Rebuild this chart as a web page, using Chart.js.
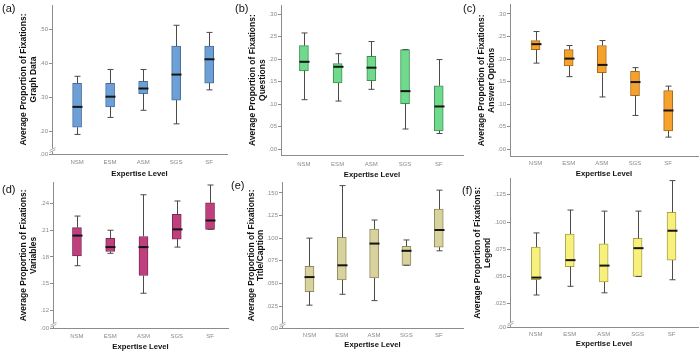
<!DOCTYPE html>
<html>
<head>
<meta charset="utf-8">
<script src="https://cdn.jsdelivr.net/npm/chart.js@4/dist/chart.umd.min.js"></script>
<style>
  html, body { margin: 0; padding: 0; background: #fff; }
  #fig { position: relative; width: 700px; height: 357px; overflow: hidden; }
  .panel { position: absolute; width: 234px; height: 180px; }
  .tag { position: absolute; font: 11px Arial, "Liberation Sans", sans-serif; color: #111; line-height: 12px; }
</style>
</head>
<body>
<div id="fig"></div>
<script>
// Data: each box is [min, q1, median, q3, max]
const groups = ["NSM", "ESM", "ASM", "SGS", "SF"];

const graphData = [
    [0.190, 0.211, 0.271, 0.340, 0.361],
    [0.240, 0.271, 0.301, 0.340, 0.381],
    [0.261, 0.310, 0.325, 0.346, 0.381],
    [0.221, 0.291, 0.366, 0.450, 0.511],
    [0.321, 0.341, 0.411, 0.450, 0.490],
];
const questions = [
    [0.110, 0.174, 0.194, 0.230, 0.258],
    [0.107, 0.147, 0.183, 0.190, 0.212],
    [0.133, 0.152, 0.181, 0.206, 0.239],
    [0.045, 0.101, 0.129, 0.221, 0.221],
    [0.035, 0.041, 0.095, 0.141, 0.199],
];
const answerOptions = [
    [0.191, 0.221, 0.233, 0.241, 0.261],
    [0.161, 0.185, 0.201, 0.221, 0.230],
    [0.116, 0.170, 0.187, 0.230, 0.241],
    [0.075, 0.119, 0.149, 0.173, 0.181],
    [0.027, 0.041, 0.086, 0.130, 0.140],
];
const variables = [
    [0.170, 0.181, 0.204, 0.213, 0.226],
    [0.184, 0.186, 0.191, 0.201, 0.210],
    [0.139, 0.159, 0.191, 0.203, 0.250],
    [0.191, 0.200, 0.211, 0.228, 0.243],
    [0.211, 0.211, 0.221, 0.241, 0.261],
];
const titleCaption = [
    [0.026, 0.041, 0.057, 0.069, 0.100],
    [0.038, 0.054, 0.070, 0.101, 0.158],
    [0.031, 0.056, 0.094, 0.110, 0.120],
    [0.070, 0.070, 0.086, 0.091, 0.098],
    [0.086, 0.090, 0.109, 0.132, 0.153],
];
const legendData = [
    [0.033, 0.047, 0.049, 0.077, 0.090],
    [0.041, 0.059, 0.065, 0.089, 0.111],
    [0.035, 0.045, 0.060, 0.080, 0.110],
    [0.050, 0.050, 0.076, 0.085, 0.110],
    [0.047, 0.065, 0.092, 0.109, 0.138],
];

// tick labels
const ticksTop = [0.00, 0.05, 0.10, 0.15, 0.20, 0.25, 0.30];
const ticksGraph = [0.20, 0.30, 0.40, 0.50];
const ticksVars = [0.12, 0.15, 0.18, 0.21, 0.24];
const ticksTitle = [0.025, 0.050, 0.075, 0.100, 0.125, 0.150];
const ticksLegend = [0.025, 0.050, 0.075, 0.100, 0.125];

Chart.defaults.font.family = 'Arial, "Liberation Sans", sans-serif';

// Whiskers, medians and the axis break
const boxExtras = {
    id: "boxExtras",
    afterDatasetsDraw(chart, args, opts) {
        const { ctx } = chart;
        const x = chart.scales.x;
        const y = chart.scales.y;
        ctx.save();
        opts.boxes.forEach((b, i) => {
            const cx = Math.round(x.getPixelForValue(i)) + 0.5;
            const pMin = y.getPixelForValue(b[0]);
            const pQ1 = y.getPixelForValue(b[1]);
            const pMed = y.getPixelForValue(b[2]);
            const pQ3 = y.getPixelForValue(b[3]);
            const pMax = y.getPixelForValue(b[4]);
            ctx.strokeStyle = "#4a4a4a";
            ctx.lineWidth = 1;
            ctx.beginPath();
            ctx.moveTo(cx, pQ3); ctx.lineTo(cx, pMax);
            ctx.moveTo(cx, pQ1); ctx.lineTo(cx, pMin);
            ctx.moveTo(cx - 3, pMax); ctx.lineTo(cx + 3, pMax);
            ctx.moveTo(cx - 3, pMin); ctx.lineTo(cx + 3, pMin);
            ctx.stroke();
            ctx.strokeStyle = "#151515";
            ctx.lineWidth = 2;
            ctx.beginPath();
            ctx.moveTo(cx - 5, pMed); ctx.lineTo(cx + 5, pMed);
            ctx.stroke();
        });
        if (opts.brk) {
            const ax = Math.round(x.left) + 0.5;
            const yb = y.bottom - 4;
            ctx.fillStyle = "#fff";
            ctx.fillRect(ax - 1, yb - 1.5, 3, 3);
            ctx.strokeStyle = "#999";
            ctx.lineWidth = 0.8;
            ctx.beginPath();
            ctx.moveTo(ax - 3, yb + 0.5); ctx.lineTo(ax + 3, yb - 2.5);
            ctx.moveTo(ax - 3, yb + 2.5); ctx.lineTo(ax + 3, yb - 0.5);
            ctx.stroke();
        }
        ctx.restore();
    },
};

const fig = document.getElementById("fig");

const makePanel = (p) => {
    const wrap = document.createElement("div");
    wrap.className = "panel";
    wrap.style.left = p.x0 + "px";
    wrap.style.top = p.y0 + "px";
    const canvas = document.createElement("canvas");
    canvas.width = 234;
    canvas.height = 180;
    canvas.style.width = "234px";
    canvas.style.height = "180px";
    wrap.appendChild(canvas);
    fig.appendChild(wrap);

    const fmt = (v) => {
        if (Math.abs(v - p.ymin) < 1e-6 || Math.abs(v) < 1e-6) return ".00";
        return v.toFixed(p.dec).replace(/^0/, "");
    };

    new Chart(canvas, {
        type: "bar",
        data: {
            datasets: [{
                data: p.boxes.map((b, i) => ({ x: i, y: [b[1], b[3]] })),
                backgroundColor: p.fill,
                borderColor: p.edge,
                borderWidth: 1,
                borderSkipped: false,
                barThickness: 9,
            }],
        },
        options: {
            responsive: false,
            animation: false,
            layout: { padding: { top: p.top, right: 234 - p.right, left: 0, bottom: 0 } },
            plugins: {
                legend: { display: false },
                tooltip: { enabled: false },
                boxExtras: { boxes: p.boxes, brk: p.brk },
            },
            scales: {
                x: {
                    type: "linear",
                    offset: false,
                    min: p.xmin,
                    max: p.xmax,
                    grid: { display: false, drawTicks: false, tickLength: 0 },
                    border: { color: "#8c8c8c" },
                    afterBuildTicks: (s) => { s.ticks = groups.map((g, i) => ({ value: i })); },
                    afterFit: (s) => { s.height = 180 - p.bottom; s.paddingLeft = 0; s.paddingRight = 0; },
                    ticks: {
                        callback: (v) => groups[v],
                        font: { size: 6 },
                        color: "#8a8a8a",
                        padding: p.xtp,
                        maxRotation: 0,
                    },
                    title: {
                        display: true,
                        text: "Expertise Level",
                        font: { size: 7.7, weight: "bold", lineHeight: 1 },
                        color: "#111",
                        padding: { top: 0, bottom: p.xtb },
                    },
                },
                y: {
                    min: p.ymin,
                    max: p.ymax,
                    grid: { drawOnChartArea: false, drawTicks: true, tickLength: 3, color: "#8c8c8c" },
                    border: { color: "#8c8c8c" },
                    afterBuildTicks: (s) => {
                        const vals = p.brk ? [p.ymin].concat(p.ticks) : p.ticks;
                        s.ticks = vals.map((v) => ({ value: v }));
                    },
                    afterFit: (s) => { s.width = p.left; s.paddingTop = 0; s.paddingBottom = 0; },
                    ticks: {
                        callback: fmt,
                        font: { size: 6 },
                        color: "#8a8a8a",
                        padding: 1,
                    },
                    title: {
                        display: true,
                        text: ["Average Proportion of Fixations:", p.name],
                        font: { size: 8.5, weight: "bold", lineHeight: 1.15 },
                        color: "#111",
                        padding: { top: p.ytp, bottom: 0 },
                    },
                },
            },
        },
        plugins: [boxExtras],
    });

    const tag = document.createElement("div");
    tag.className = "tag";
    tag.textContent = p.tag;
    tag.style.left = p.tagX + "px";
    tag.style.top = p.tagY + "px";
    fig.appendChild(tag);
};

const panels = [
    { tag: "(a)", tagX: 2, tagY: 2, name: "Graph Data", boxes: graphData, ticks: ticksGraph, dec: 2, brk: true,
      x0: 0, y0: 0, left: 52, top: 5, bottom: 154, right: 227, ymin: 0.1324, ymax: 0.5706, xmin: -0.76, xmax: 4.54,
      ytp: 18.8, xtp: 5, xtb: 2.2, fill: "#6ca0d6", edge: "#4b6f98" },
    { tag: "(b)", tagX: 235, tagY: 2, name: "Questions", boxes: questions, ticks: ticksTop, dec: 2, brk: false,
      x0: 233, y0: 0, left: 48, top: 5, bottom: 155.3, right: 230, ymin: -0.0133, ymax: 0.32, xmin: -0.68, xmax: 4.72,
      ytp: 15.1, xtp: 5, xtb: 1.2, fill: "#6fda8b", edge: "#3f8f55" },
    { tag: "(c)", tagX: 463, tagY: 2, name: "Answer Options", boxes: answerOptions, ticks: ticksTop, dec: 2, brk: false,
      x0: 466, y0: 0, left: 44, top: 4, bottom: 156.7, right: 232, ymin: -0.0164, ymax: 0.322, xmin: -0.77, xmax: 4.9,
      ytp: 11.1, xtp: 3.5, xtb: 2.2, fill: "#f5a12c", edge: "#a86b1c" },
    { tag: "(d)", tagX: 2, tagY: 183, name: "Variables", boxes: variables, ticks: ticksVars, dec: 2, brk: true,
      x0: 0, y0: 177, left: 53, top: 5, bottom: 151.7, right: 228, ymin: 0.099, ymax: 0.2644, xmin: -0.72, xmax: 4.54,
      ytp: 19.1, xtp: 4, xtb: 6.2, fill: "#c0407f", edge: "#7e2a55" },
    { tag: "(e)", tagX: 231, tagY: 179, name: "Title/Caption", boxes: titleCaption, ticks: ticksTitle, dec: 3, brk: true,
      x0: 233, y0: 177, left: 49, top: 5, bottom: 151.7, right: 230, ymin: 0, ymax: 0.162, xmin: -0.85, xmax: 4.75,
      ytp: 13.4, xtp: 3, xtb: 7.9, fill: "#d8d29c", edge: "#8e8a62" },
    { tag: "(f)", tagX: 462, tagY: 184, name: "Legend", boxes: legendData, ticks: ticksLegend, dec: 3, brk: true,
      x0: 466, y0: 177, left: 44, top: 1, bottom: 150.7, right: 232, ymin: 0.003, ymax: 0.1404, xmin: -0.76, xmax: 4.78,
      ytp: 6.8, xtp: 3, xtb: 9.5, fill: "#f8f07c", edge: "#a9a24a" },
];

panels.forEach(makePanel);
</script>
</body>
</html>
